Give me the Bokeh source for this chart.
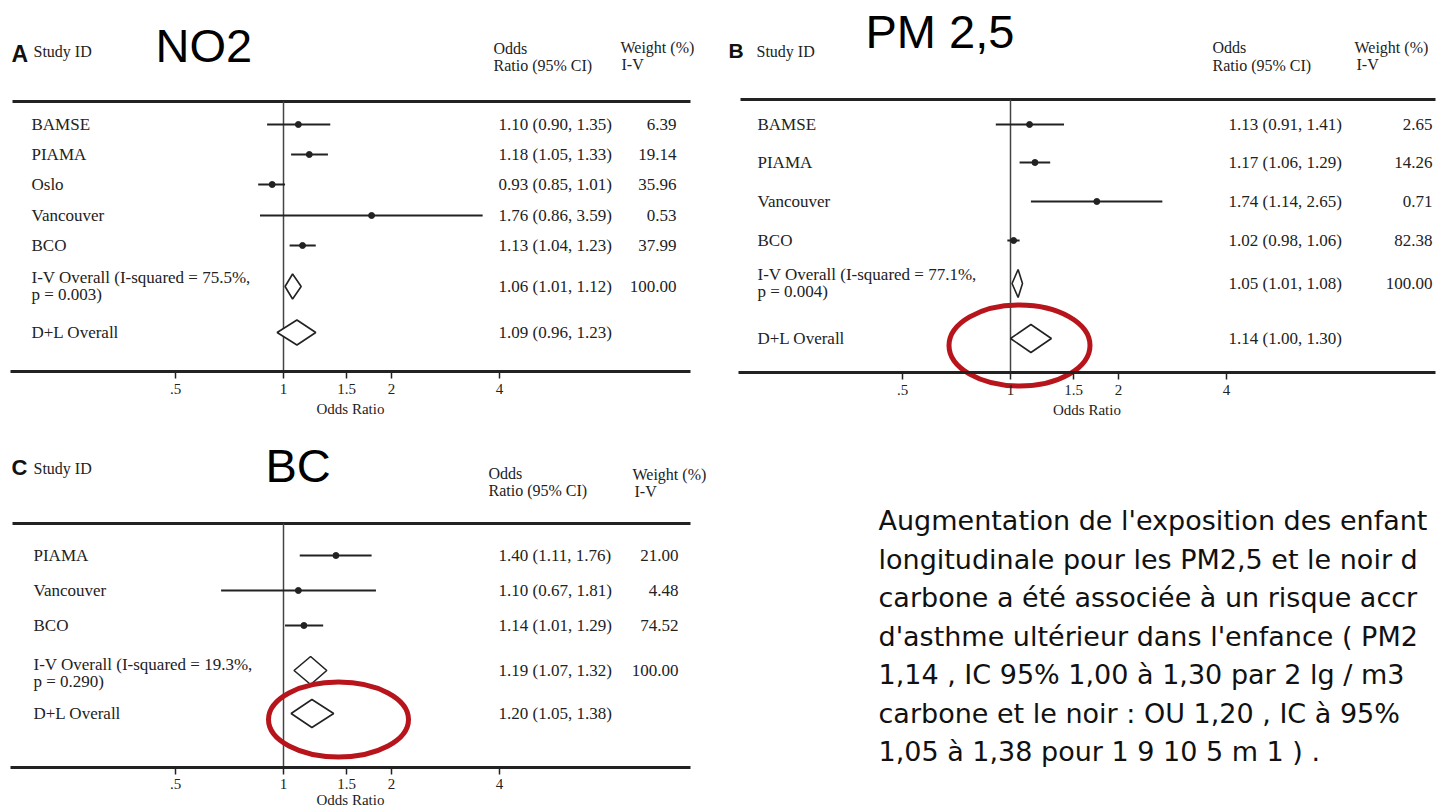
import math
from bokeh.plotting import figure
from bokeh.models import Range1d, FixedTicker
from bokeh.layouts import row, column
from bokeh.embed import file_html
from bokeh.resources import INLINE
from bokeh.core.properties import value

# ---------------- data ----------------
a_studies = ["BAMSE", "PIAMA", "Oslo", "Vancouver", "BCO"]
a_or = [1.10, 1.18, 0.93, 1.76, 1.13]
a_lo = [0.90, 1.05, 0.85, 0.86, 1.04]
a_hi = [1.35, 1.33, 1.01, 3.59, 1.23]
a_weight = [6.39, 19.14, 35.96, 0.53, 37.99]
a_iv = [1.06, 1.01, 1.12]
a_dl = [1.09, 0.96, 1.23]
a_i2 = "75.5%"
a_p = "0.003"

b_studies = ["BAMSE", "PIAMA", "Vancouver", "BCO"]
b_or = [1.13, 1.17, 1.74, 1.02]
b_lo = [0.91, 1.06, 1.14, 0.98]
b_hi = [1.41, 1.29, 2.65, 1.06]
b_weight = [2.65, 14.26, 0.71, 82.38]
b_iv = [1.05, 1.01, 1.08]
b_dl = [1.14, 1.00, 1.30]
b_i2 = "77.1%"
b_p = "0.004"

c_studies = ["PIAMA", "Vancouver", "BCO"]
c_or = [1.40, 1.10, 1.14]
c_lo = [1.11, 0.67, 1.01]
c_hi = [1.76, 1.81, 1.29]
c_weight = [21.00, 4.48, 74.52]
c_iv = [1.19, 1.07, 1.32]
c_dl = [1.20, 1.05, 1.38]
c_i2 = "19.3%"
c_p = "0.290"

overall_weight = 100.00
ticks = [0.5, 1, 1.5, 2, 4]
tick_labels = [".5", "1", "1.5", "2", "4"]
titles = ["NO2", "PM 2,5", "BC"]
letters = ["A", "B", "C"]

paragraph = [
    "Augmentation de l'exposition des enfant",
    "longitudinale pour les PM2,5 et le noir d",
    "carbone a été associée à un risque accr",
    "d'asthme ultérieur dans l'enfance ( PM2",
    "1,14 , IC 95% 1,00 à 1,30 par 2 lg / m3",
    "carbone et le noir : OU 1,20 , IC à 95%",
    "1,05 à 1,38 pour 1 9 10 5 m 1 ) .",
]

# ---------------- layout / style ----------------
PX = 108.0  # pixels per doubling of the odds ratio
SERIF = value("Liberation Serif")
SANS = value("Liberation Sans")
INK = "#222222"
RED = "#b8141c"

LAY = {
    "A": dict(w=720, h=430, axis_y=371, x1=283, rule_y=101, rule_x=(12, 690), axis_x=(10, 690),
              rows=[124, 154, 184, 215, 245], iv_y=286, iv_txt=(277, 294), dl_y=332, dh=12.5,
              label_x=31, or_x=498, wt_x=676, letter=(11, 53, "23px"), study=(33, 51),
              title=(155, 45), odds=(493, 48), ratio=(493, 65), weight=(620, 47), ivh=(621, 64),
              ellipse=None, lab_stand=5, ax_stand=4),
    "B": dict(w=719, h=430, axis_y=372, x1=290, rule_y=99, rule_x=(20, 715), axis_x=(18, 715),
              rows=[124, 162, 201, 240], iv_y=283, iv_txt=(274, 291), dl_y=338, dh=14,
              label_x=37, or_x=508, wt_x=712, letter=(8, 50, "21px"), study=(36, 51),
              title=(145, 31), odds=(492, 47), ratio=(492, 65), weight=(634, 47), ivh=(636, 64),
              ellipse=(299, 345, 141, 81), lab_stand=5, ax_stand=4),
    "C": dict(w=720, h=382, axis_y=337, x1=283, rule_y=93, rule_x=(12, 690), axis_x=(10, 690),
              rows=[125, 160, 195], iv_y=240, iv_txt=(234, 251), dl_y=283, dh=14,
              label_x=33, or_x=498, wt_x=678, letter=(11, 37, "22px"), study=(33, 38),
              title=(265, 35), odds=(488, 43), ratio=(488, 60), weight=(632, 44), ivh=(634, 61),
              ellipse=(338, 289, 140, 75), lab_stand=4, ax_stand=0),
}


def make_panel(key, title, studies, ors, los, his, weights, iv, dl, i2, pval):
    L = LAY[key]

    def px2x(px):
        return 2 ** ((px - L["x1"]) / PX)

    p = figure(width=L["w"], height=L["h"], x_axis_type="log",
               x_range=Range1d(px2x(0), px2x(L["w"])), y_range=Range1d(L["h"], 0),
               y_axis_location=None, toolbar_location=None, output_backend="svg",
               min_border=0, outline_line_color=None,
               background_fill_color="white", border_fill_color="white")
    p.grid.visible = False

    ax = p.xaxis[0]
    ax.fixed_location = L["axis_y"]
    ax.ticker = FixedTicker(ticks=ticks)
    ax.major_label_overrides = dict(zip(ticks, tick_labels))
    ax.bounds = (px2x(L["axis_x"][0]), px2x(L["axis_x"][1]))
    ax.axis_line_width = 3
    ax.axis_line_color = INK
    ax.major_tick_line_width = 1.5
    ax.major_tick_line_color = INK
    ax.major_tick_in = 0
    ax.major_tick_out = 7
    ax.minor_tick_line_color = None
    ax.major_label_text_font = "Liberation Serif"
    ax.major_label_text_font_size = "15px"
    ax.major_label_text_color = INK
    ax.major_label_standoff = L["lab_stand"]
    ax.axis_label = "Odds Ratio"
    ax.axis_label_text_font = "Liberation Serif"
    ax.axis_label_text_font_style = "normal"
    ax.axis_label_text_font_size = "15px"
    ax.axis_label_text_color = INK
    ax.axis_label_standoff = L["ax_stand"]

    # top rule and null line
    p.segment(x0=[px2x(L["rule_x"][0])], x1=[px2x(L["rule_x"][1])], y0=[L["rule_y"]], y1=[L["rule_y"]],
              line_width=3, line_color=INK)
    p.segment(x0=[1], x1=[1], y0=[L["rule_y"]], y1=[L["axis_y"]], line_width=1.5, line_color="#444444")

    rows = L["rows"]
    # study CIs and point estimates
    p.segment(x0=los, x1=his, y0=rows, y1=rows, line_width=2, line_color=INK)
    p.scatter(x=ors, y=rows, size=6, color=INK)

    # pooled diamonds
    dh = L["dh"]
    xs = [[iv[1], iv[0], iv[2], iv[0]], [dl[1], dl[0], dl[2], dl[0]]]
    ys = [[L["iv_y"], L["iv_y"] - dh, L["iv_y"], L["iv_y"] + dh],
          [L["dl_y"], L["dl_y"] - dh, L["dl_y"], L["dl_y"] + dh]]
    p.patches(xs=xs, ys=ys, fill_color="white", line_color=INK, line_width=1.6)

    def txt(px, y, s, size="17px", align="left", font=SERIF, style="normal", color=INK):
        p.text(x=[px2x(px)], y=[y], text=[s], text_font=font, text_font_size=size,
               text_font_style=style, text_align=align, text_baseline="middle", text_color=color)

    # headers
    lx, ly, lsize = L["letter"]
    txt(lx, ly, letters["ABC".index(key)], size=lsize, font=SANS, style="bold", color="#111111")
    txt(L["study"][0], L["study"][1], "Study ID", size="16px")
    txt(L["title"][0], L["title"][1], title, size="47px", font=SANS, color="#000000")
    txt(L["odds"][0], L["odds"][1], "Odds", size="16px")
    txt(L["ratio"][0], L["ratio"][1], "Ratio (95% CI)", size="16px")
    txt(L["weight"][0], L["weight"][1], "Weight (%)", size="16px")
    txt(L["ivh"][0], L["ivh"][1], "I-V", size="16px")

    # rows text
    n = len(studies)
    p.text(x=[px2x(L["label_x"])] * n, y=rows, text=studies, text_font=SERIF, text_font_size="17px",
           text_baseline="middle", text_color=INK)
    or_txt = [f"{o:.2f} ({l:.2f}, {h:.2f})" for o, l, h in zip(ors, los, his)]
    p.text(x=[px2x(L["or_x"])] * n, y=rows, text=or_txt, text_font=SERIF, text_font_size="17px",
           text_baseline="middle", text_color=INK)
    p.text(x=[px2x(L["wt_x"])] * n, y=rows, text=[f"{w:.2f}" for w in weights], text_font=SERIF,
           text_font_size="17px", text_baseline="middle", text_align="right", text_color=INK)

    # pooled rows text
    txt(L["label_x"], L["iv_txt"][0], f"I-V Overall (I-squared = {i2},")
    txt(L["label_x"], L["iv_txt"][1], f"p = {pval})")
    txt(L["or_x"], L["iv_y"], f"{iv[0]:.2f} ({iv[1]:.2f}, {iv[2]:.2f})")
    txt(L["wt_x"], L["iv_y"], f"{overall_weight:.2f}", align="right")
    txt(L["label_x"], L["dl_y"], "D+L Overall")
    txt(L["or_x"], L["dl_y"], f"{dl[0]:.2f} ({dl[1]:.2f}, {dl[2]:.2f})")

    if L["ellipse"]:
        ex, ey, ew, eh = L["ellipse"]
        p.ellipse(x=[px2x(ex)], y=[ey], width=ew, height=eh, width_units="screen",
                  height_units="screen", fill_color=None, line_color=RED, line_width=5)
    return p


pA = make_panel("A", titles[0], a_studies, a_or, a_lo, a_hi, a_weight, a_iv, a_dl, a_i2, a_p)
pB = make_panel("B", titles[1], b_studies, b_or, b_lo, b_hi, b_weight, b_iv, b_dl, b_i2, b_p)
pC = make_panel("C", titles[2], c_studies, c_or, c_lo, c_hi, c_weight, c_iv, c_dl, c_i2, c_p)

pT = figure(width=719, height=382, x_range=Range1d(0, 719), y_range=Range1d(382, 0),
            x_axis_location=None, y_axis_location=None, toolbar_location=None,
            output_backend="svg", min_border=0, outline_line_color=None)
pT.grid.visible = False
line_y = [90 + 38.5 * i for i in range(len(paragraph))]
pT.text(x=[158] * len(paragraph), y=line_y, text=paragraph, text_font=value("DejaVu Sans"),
        text_font_size="27px", text_baseline="middle", text_color="#111111")

layout = column(row(pA, pB), row(pC, pT))
open("out.html", "w").write(file_html(layout, INLINE))
